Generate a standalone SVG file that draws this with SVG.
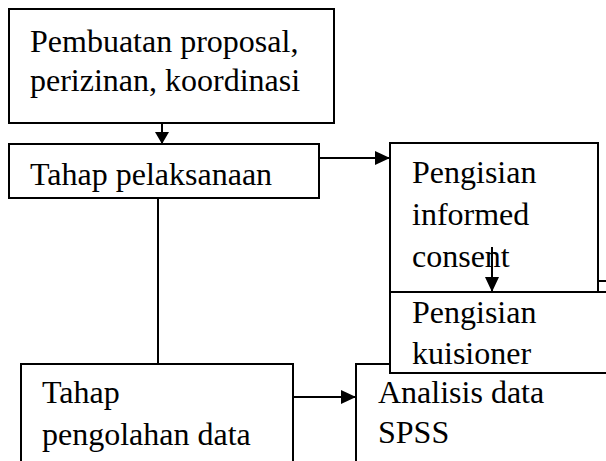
<svg xmlns="http://www.w3.org/2000/svg" width="606" height="461" viewBox="0 0 606 461">
<style>
.box{fill:#fff;stroke:#000;stroke-width:2}
.ln{fill:none;stroke:#000;stroke-width:2}
text{font-family:"Liberation Serif","Times New Roman",serif;font-size:32px;fill:#000}
</style>
<defs>
<marker id="ah" viewBox="0 0 15 14" refX="15" refY="7" markerWidth="15" markerHeight="14" markerUnits="userSpaceOnUse" orient="auto">
<path d="M0,0 L15,7 L0,14 Z" fill="#000"/>
</marker>
<marker id="ahs" viewBox="0 0 12 14" refX="12" refY="7" markerWidth="12" markerHeight="14" markerUnits="userSpaceOnUse" orient="auto">
<path d="M0,0 L12,7 L0,14 Z" fill="#000"/>
</marker>
</defs>
<g id="n1"><rect class="box" x="9" y="9" width="325" height="114"/>
<text x="30" y="52">Pembuatan proposal,</text><text x="30" y="91">perizinan, koordinasi</text></g>
<g id="n2"><rect class="box" x="9" y="144" width="310" height="54"/>
<text x="30" y="185">Tahap pelaksanaan</text></g>
<g id="n5"><rect class="box" x="356" y="364" width="270" height="110"/>
<text x="378" y="403">Analisis data</text><text x="378" y="443">SPSS</text></g>
<g id="n4"><rect class="box" x="390" y="292" width="230" height="81"/>
<text x="412" y="323">Pengisian</text><text x="412" y="364">kuisioner</text></g>
<g id="n3"><rect class="box" x="390" y="143" width="208" height="149"/>
<text x="412" y="183">Pengisian</text><text x="412" y="225">informed</text><text x="412" y="267">consent</text></g>
<g id="n6"><rect class="box" x="21" y="364" width="272" height="110"/>
<text x="42" y="403">Tahap</text><text x="42" y="445">pengolahan data</text></g>
<g id="connectors">
<line class="ln" x1="162" y1="123" x2="162" y2="144" marker-end="url(#ahs)"/>
<line class="ln" x1="319" y1="158" x2="390" y2="158" marker-end="url(#ah)"/>
<line class="ln" x1="492" y1="247" x2="492" y2="292" marker-end="url(#ah)"/>
<line class="ln" x1="158" y1="198" x2="158" y2="364"/>
<line class="ln" x1="293" y1="397" x2="356" y2="397" marker-end="url(#ah)"/>
<line class="ln" x1="598" y1="281" x2="606" y2="281"/>
</g>
</svg>
